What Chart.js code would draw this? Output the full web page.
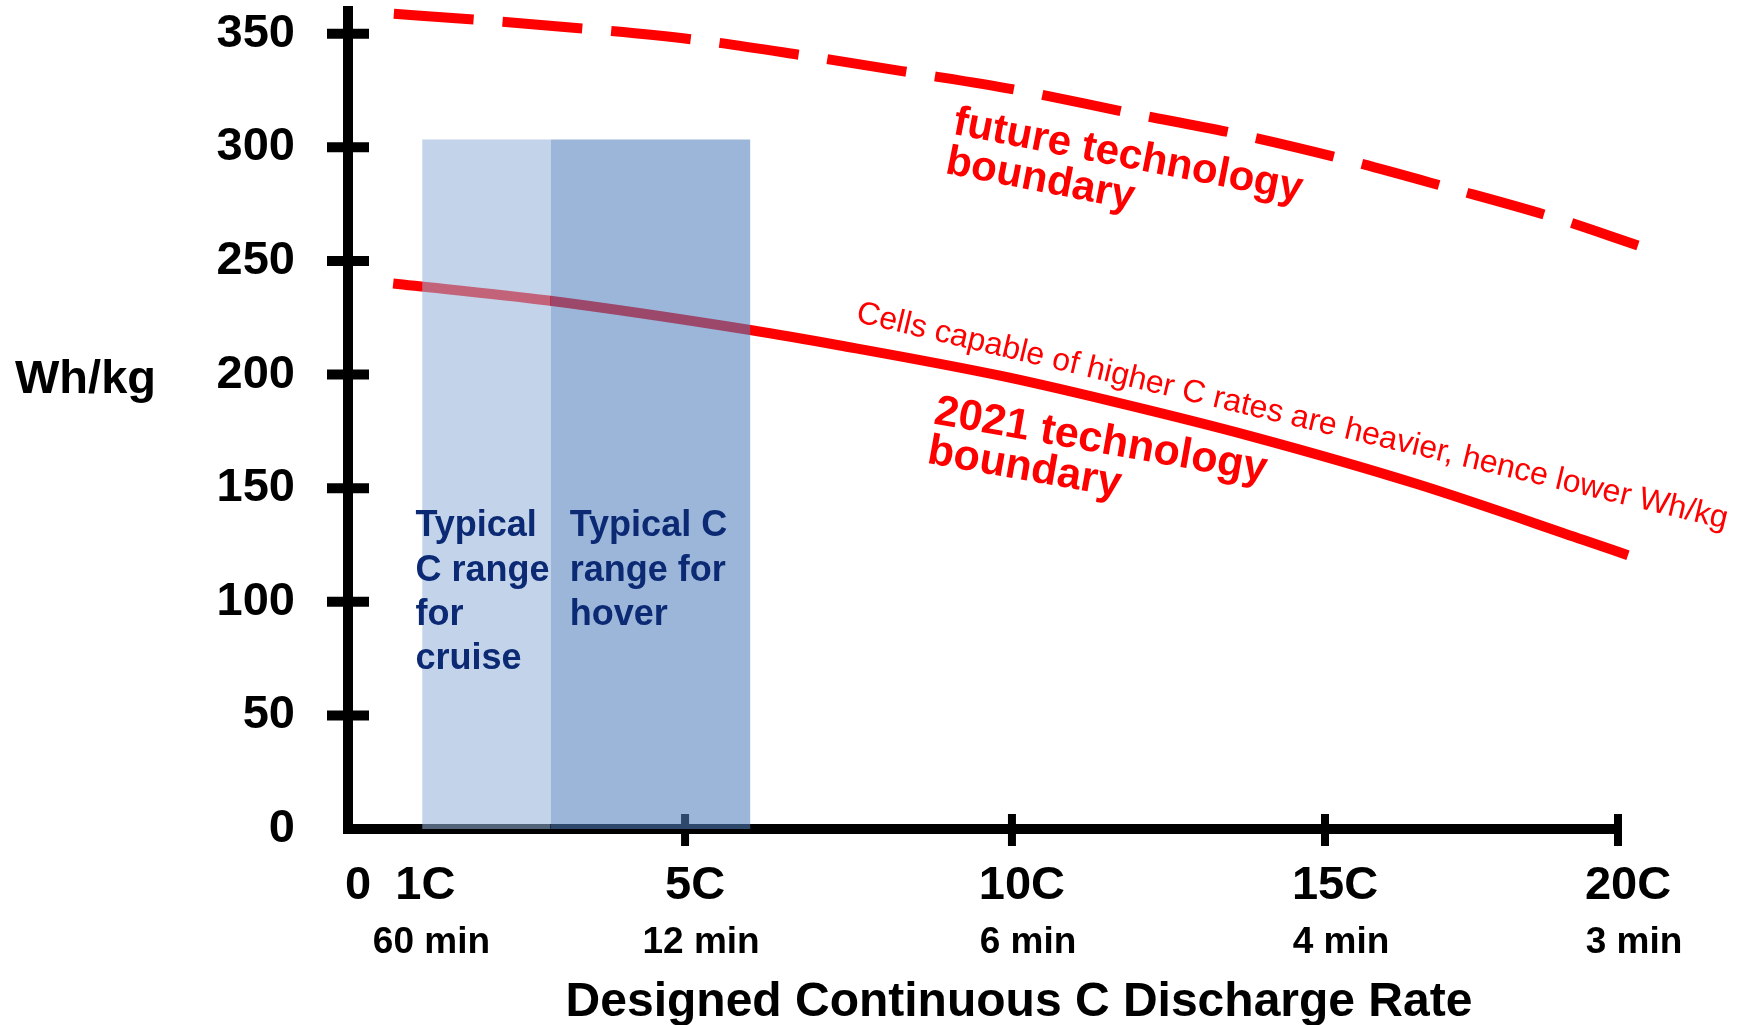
<!DOCTYPE html>
<html>
<head>
<meta charset="utf-8">
<script src="https://cdn.jsdelivr.net/npm/chart.js@4/dist/chart.umd.min.js"></script>
<style>
  html, body { margin: 0; padding: 0; background: #fff; }
  #wrap { width: 1741px; height: 1025px; }
</style>
</head>
<body>
<div id="wrap"><canvas id="chart"></canvas></div>
<script>
'use strict';

// Wh/kg axis
const yTicks = [0, 50, 100, 150, 200, 250, 300, 350];
const yTickMarks = [50, 100, 150, 200, 250, 300, 350];

// C rate axis
const rateTicks = [0, 1, 5, 10, 15, 20];
const rateLabels = ['0', '1C', '5C', '10C', '15C', '20C'];
const rateTickMarks = [5, 10, 15, 20];
const minuteTicks = [1, 5, 10, 15, 20];
const minuteLabels = ['60 min', '12 min', '6 min', '4 min', '3 min'];

// boundaries: C rate -> Wh/kg
const futureRate = [0.68, 1.87, 3.52, 5.14, 6.82, 8.46, 10.13, 11.85, 13.56, 15.27, 17.10, 18.91, 20.34];
const futureWhkg = [358.8, 356.2, 352.2, 347.4, 340.4, 332.9, 325.0, 315.3, 306.1, 295.1, 282.3, 269.1, 256.8];
const todayRate = [0.67, 2.97, 6.02, 7.37, 9.80, 11.57, 13.81, 16.57, 19.40, 20.17];
const todayWhkg = [240.1, 232.6, 219.5, 212.8, 199.6, 188.4, 172.9, 151.8, 127.3, 120.5];

// shaded C ranges
const cruiseRange = [1.1, 3];
const hoverRange = [3, 6];
const rangeTop = 303.5;

const red = '#ff0000';
const navy = '#0c2a74';
const FONT = "'Liberation Sans', Arial, sans-serif";

// the hand drawn C axis is not quite even, ticks get closer to the right
const knotRate = [0, 5, 10, 15, 20];
const knotFrac = [0, 0.2654, 0.5228, 0.7693, 1];

function bend(v){
    var i = 1;
    while(i < knotRate.length - 1 && v > knotRate[i]) i++;
    return knotFrac[i-1] + (v - knotRate[i-1]) * (knotFrac[i] - knotFrac[i-1]) / (knotRate[i] - knotRate[i-1]);
}
function unbend(f){
    var i = 1;
    while(i < knotFrac.length - 1 && f > knotFrac[i]) i++;
    return knotRate[i-1] + (f - knotFrac[i-1]) * (knotRate[i] - knotRate[i-1]) / (knotFrac[i] - knotFrac[i-1]);
}

class BentScale extends Chart.LinearScale {
    getPixelForValue(value){
        if(value === null || value === undefined) return NaN;
        return this.getPixelForDecimal(bend((value - this.min) / (this.max - this.min) * 20) );
    }
    getValueForPixel(pixel){
        return this.min + unbend(this.getDecimalForPixel(pixel)) / 20 * (this.max - this.min);
    }
}
BentScale.id = 'bent';
BentScale.defaults = Chart.LinearScale.defaults;
Chart.register(BentScale);

const notes = [
    {lines: ['future technology', 'boundary'], x: 9.08, y: 306, angle: 11, font: 'bold 42px ' + FONT, color: red, gap: 40},
    {lines: ['2021 technology', 'boundary'], x: 8.79, y: 178.5, angle: 10, font: 'bold 43px ' + FONT, color: red, gap: 40},
    {lines: ['Cells capable of higher C rates are heavier, hence lower Wh/kg'], x: 7.6, y: 223.4, angle: 13.4, font: '32px ' + FONT, color: red, gap: 0},
    {lines: ['Typical', 'C range', 'for', 'cruise'], x: 1.0, y: 128.8, angle: 0, font: 'bold 36px ' + FONT, color: navy, gap: 44.3},
    {lines: ['Typical C', 'range for', 'hover'], x: 3.29, y: 128.8, angle: 0, font: 'bold 36px ' + FONT, color: navy, gap: 44.3}
];

const decor = {
    id: 'decor',
    beforeDatasetsDraw(chart){
        const ctx = chart.ctx, x = chart.scales.x, y = chart.scales.y;
        const x0 = x.getPixelForValue(0), y0 = y.getPixelForValue(0);
        ctx.save();
        ctx.strokeStyle = '#000';
        ctx.lineWidth = 10;
        yTickMarks.forEach(v => {
            const py = y.getPixelForValue(v);
            ctx.beginPath(); ctx.moveTo(x0 - 21, py); ctx.lineTo(x0 + 21, py); ctx.stroke();
        });
        ctx.lineWidth = 8;
        rateTickMarks.forEach(v => {
            const px = x.getPixelForValue(v);
            ctx.beginPath(); ctx.moveTo(px, y0 - 15); ctx.lineTo(px, y0 + 17); ctx.stroke();
        });
        ctx.restore();
    },
    afterDatasetsDraw(chart){
        const ctx = chart.ctx, x = chart.scales.x, y = chart.scales.y;
        notes.forEach(n => {
            ctx.save();
            ctx.translate(x.getPixelForValue(n.x), y.getPixelForValue(n.y));
            ctx.rotate(n.angle * Math.PI / 180);
            ctx.font = n.font;
            ctx.fillStyle = n.color;
            ctx.textAlign = 'left';
            ctx.textBaseline = 'alphabetic';
            n.lines.forEach((t, i) => ctx.fillText(t, 0, i * n.gap));
            ctx.restore();
        });
    },
    afterDraw(chart){
        const ctx = chart.ctx;
        ctx.save();
        ctx.fillStyle = '#000';
        ctx.textBaseline = 'alphabetic';
        ctx.font = 'bold 47px ' + FONT;
        ctx.textAlign = 'left';
        ctx.fillText('Wh/kg', 15, 393);
        ctx.font = 'bold 48px ' + FONT;
        ctx.textAlign = 'center';
        ctx.fillText('Designed Continuous C Discharge Rate', 1019, 1016);
        ctx.restore();
    }
};

const toPoints = (xs, ys) => xs.map((v, i) => ({x: v, y: ys[i]}));

new Chart(document.getElementById('chart'), {
    type: 'line',
    data: {
        datasets: [{
            label: 'future technology boundary',
            data: toPoints(futureRate, futureWhkg),
            borderColor: red,
            borderWidth: 10,
            borderDash: [80, 29],
            cubicInterpolationMode: 'monotone',
            pointRadius: 0,
            clip: false,
            order: 1
        }, {
            label: '2021 technology boundary',
            data: toPoints(todayRate, todayWhkg),
            borderColor: red,
            borderWidth: 10,
            cubicInterpolationMode: 'monotone',
            pointRadius: 0,
            clip: false,
            order: 1
        }, {
            label: 'cruise',
            data: toPoints(cruiseRange, [rangeTop, rangeTop]),
            borderColor: 'rgba(0,0,0,0)',
            borderWidth: 0,
            backgroundColor: 'rgba(146,177,218,0.56)',
            fill: 'origin',
            pointRadius: 0,
            order: 0
        }, {
            label: 'hover',
            data: toPoints(hoverRange, [rangeTop, rangeTop]),
            borderColor: 'rgba(0,0,0,0)',
            borderWidth: 0,
            backgroundColor: 'rgba(79,126,189,0.57)',
            fill: 'origin',
            pointRadius: 0,
            order: 0
        }]
    },
    options: {
        responsive: true,
        maintainAspectRatio: false,
        animation: false,
        events: [],
        layout: { padding: { top: 11, right: 123, bottom: 0, left: 0 } },
        plugins: { legend: { display: false }, tooltip: { enabled: false } },
        scales: {
            x: {
                type: 'bent', position: 'bottom', min: 0, max: 20, weight: 0,
                grid: { display: false, drawTicks: false },
                border: { display: true, color: '#000', width: 10 },
                afterBuildTicks: s => { s.ticks = rateTicks.map(v => ({value: v})); },
                afterFit: s => { s.height = 90; s.paddingLeft = 0; s.paddingRight = 0; },
                ticks: {
                    autoSkip: false, maxRotation: 0, padding: 34, labelOffset: 10, color: '#000',
                    font: { family: FONT, size: 47, weight: 'bold', lineHeight: 1 },
                    callback: (v, i) => rateLabels[i]
                }
            },
            x2: {
                type: 'bent', position: 'bottom', min: 0, max: 20, weight: 1,
                grid: { display: false, drawTicks: false },
                border: { display: false },
                afterBuildTicks: s => { s.ticks = minuteTicks.map(v => ({value: v})); },
                afterFit: s => { s.height = 106; s.paddingLeft = 0; s.paddingRight = 0; },
                ticks: {
                    autoSkip: false, maxRotation: 0, padding: 5, labelOffset: 16, color: '#000',
                    font: { family: FONT, size: 37, weight: 'bold', lineHeight: 1 },
                    callback: (v, i) => minuteLabels[i]
                }
            },
            y: {
                type: 'linear', position: 'left', min: 0, max: 360,
                grid: { display: false, drawTicks: false },
                border: { display: true, color: '#000', width: 10 },
                afterBuildTicks: s => { s.ticks = yTicks.map(v => ({value: v})); },
                afterFit: s => { s.width = 348; s.paddingTop = 0; s.paddingBottom = 0; },
                ticks: {
                    padding: 53, color: '#000',
                    font: { family: FONT, size: 47, weight: 'bold' },
                    callback: v => String(v)
                }
            }
        }
    },
    plugins: [decor]
});
</script>
</body>
</html>
